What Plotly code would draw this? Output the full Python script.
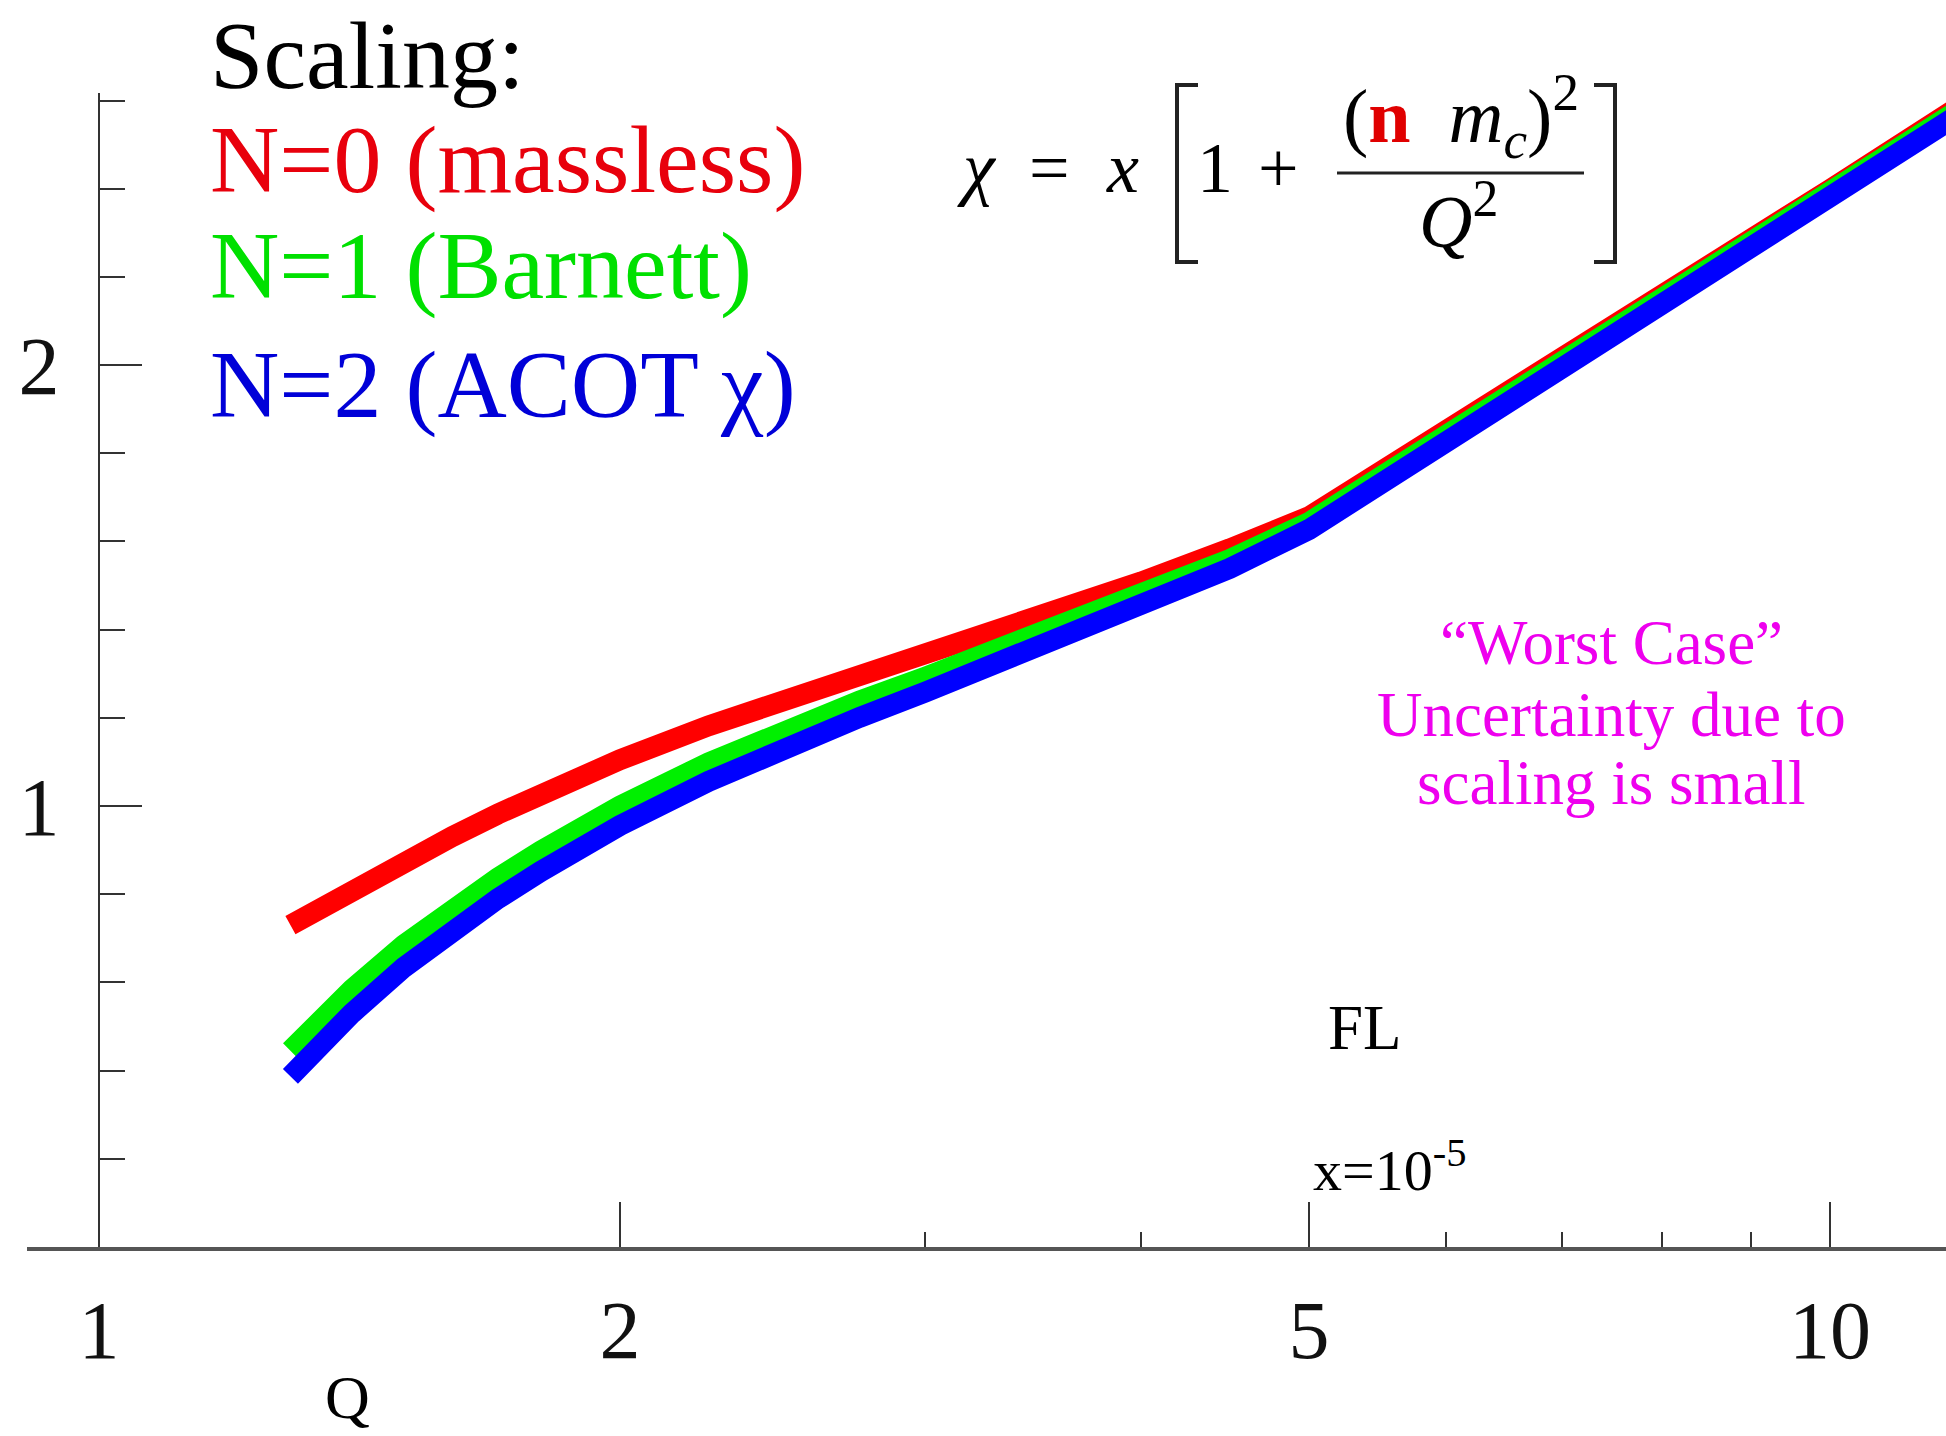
import plotly.graph_objects as go

# ---- data -------------------------------------------------------------
# Q values (GeV) at which the F_L curves are sampled
q_values = [1.29, 1.35, 1.4, 1.5, 1.6, 1.7, 1.8, 1.9, 2.0, 2.25, 2.5, 2.75, 3.0,
            3.5, 4.0, 4.5, 5.0, 10.0, 12.0]

# F_L at x = 1e-5 for the three choices of the rescaling variable
fl_massless = [0.73, 0.775, 0.811, 0.874, 0.931, 0.982, 1.027, 1.068, 1.105, 1.182,
               1.240, 1.292, 1.340, 1.427, 1.508, 1.583, 1.656, 2.398, 2.598]
fl_barnett = [0.445, 0.526, 0.584, 0.685, 0.768, 0.837, 0.898, 0.952, 1.000, 1.098,
              1.175, 1.238, 1.292, 1.389, 1.476, 1.559, 1.643, 2.39, 2.59]
fl_acot = [0.387, 0.470, 0.530, 0.634, 0.719, 0.790, 0.852, 0.907, 0.956, 1.056,
           1.135, 1.201, 1.258, 1.360, 1.452, 1.539, 1.627, 2.383, 2.58]

series_names = ["N=0 (massless)", "N=1 (Barnett)", "N=2 (ACOT χ)"]
series_values = [fl_massless, fl_barnett, fl_acot]
line_colors = ["#ff0000", "#00f000", "#0000ff"]
label_colors = ["#e8000c", "#00e000", "#0000d8"]

x_tick_vals = [1, 2, 5, 10]
x_tick_text = ["1", "2", "5", "10"]
x_minor_vals = [3, 4, 6, 7, 8, 9]
y_tick_vals = [0, 1, 2]
y_tick_text = ["", "1", "2"]
y_minor_vals = [0.2, 0.4, 0.6, 0.8, 1.2, 1.4, 1.6, 1.8, 2.2, 2.4, 2.6]

# ---- geometry ---------------------------------------------------------
W, H = 1946, 1436
ML, MR, MT, MB = 27, 0, 93, 189
SERIF = "Liberation Serif, Times New Roman, serif"


def fx(px):
    """pixel column -> paper x"""
    return (px - ML) / (W - ML - MR)


def fy(py):
    """pixel row -> paper y"""
    return (H - MB - py) / (H - MT - MB)


fig = go.Figure()
for name, vals, col in zip(series_names, series_values, line_colors):
    fig.add_trace(go.Scatter(
        x=q_values, y=vals, mode="lines", name=name,
        line=dict(color=col, width=21), hoverinfo="skip", showlegend=False,
    ))

annotations = []


def text(s, px, py, size, color="black", anchor="center", family=SERIF):
    annotations.append(dict(
        text=s, x=fx(px), y=fy(py), xref="paper", yref="paper",
        xanchor=anchor, yanchor="middle", showarrow=False,
        font=dict(family=family, size=size, color=color),
    ))


# legend-like block at the upper left
text("Scaling:", 208, 55, 96, "black", "left")
for s, c, yy in zip(series_names, label_colors, [160, 266, 384]):
    text(s, 208, yy, 96, c, "left")

# rescaling formula
FS = 72
text("<i>χ</i>", 977, 168, FS)
text("=", 1049, 168, FS)
text("<i>x</i>", 1122, 168, FS)
text("1", 1215, 168, FS)
text("+", 1278, 168, FS)
text("(<span style='color:#e00000'><b>n</b></span>  <i>m</i><sub><i>c</i></sub>)<sup>2</sup>",
     1461, 116, 76)
text("<i>Q</i><sup>2</sup>", 1458, 216, 74)

# plot labels
text("FL", 1365, 1028, 63)
text("x=10<sup>-5</sup>", 1390, 1166, 58)
text("Q", 347, 1397, 62)
for s, yy in zip(["“Worst Case”", "Uncertainty due to", "scaling is small"], [643, 715, 783]):
    text(s, 1611, yy, 63, "#ee00ee")

shapes = [
    # fraction bar
    dict(type="line", xref="paper", yref="paper", x0=fx(1337), x1=fx(1584),
         y0=fy(173), y1=fy(173), line=dict(color="#222", width=3)),
    # left bracket
    dict(type="path", xref="paper", yref="paper",
         path=f"M {fx(1198)},{fy(85)} L {fx(1177)},{fy(85)} L {fx(1177)},{fy(262)} L {fx(1198)},{fy(262)}",
         line=dict(color="#222", width=4)),
    # right bracket
    dict(type="path", xref="paper", yref="paper",
         path=f"M {fx(1594)},{fy(85)} L {fx(1615)},{fy(85)} L {fx(1615)},{fy(262)} L {fx(1594)},{fy(262)}",
         line=dict(color="#222", width=4)),
]

fig.update_layout(
    width=W, height=H,
    margin=dict(l=ML, r=MR, t=MT, b=MB, pad=0),
    paper_bgcolor="white", plot_bgcolor="white",
    showlegend=False,
    annotations=annotations,
    shapes=shapes,
    xaxis=dict(
        type="log", range=[-0.0416, 1.067], domain=[0, 1],
        showline=True, linecolor="#555", linewidth=4,
        showgrid=False, zeroline=False,
        ticks="inside", ticklen=45, tickwidth=2, tickcolor="#333",
        tickmode="array", tickvals=x_tick_vals, ticktext=x_tick_text,
        tickfont=dict(family=SERIF, size=82, color="#111"),
        ticklabelstandoff=9,
        minor=dict(tickmode="array", tickvals=x_minor_vals, ticks="inside",
                   ticklen=15, tickwidth=2, tickcolor="#333", showgrid=False),
    ),
    yaxis=dict(
        range=[0, 2.617], anchor="free", position=fx(99),
        showline=True, linecolor="#333", linewidth=2,
        showgrid=False, zeroline=False,
        ticks="inside", ticklen=42, tickwidth=2, tickcolor="#333",
        tickmode="array", tickvals=y_tick_vals, ticktext=y_tick_text,
        tickfont=dict(family=SERIF, size=82, color="#111"),
        ticklabelstandoff=22,
        minor=dict(tickmode="array", tickvals=y_minor_vals, ticks="inside",
                   ticklen=25, tickwidth=2, tickcolor="#333", showgrid=False),
    ),
)

fig.write_html("out.html")
